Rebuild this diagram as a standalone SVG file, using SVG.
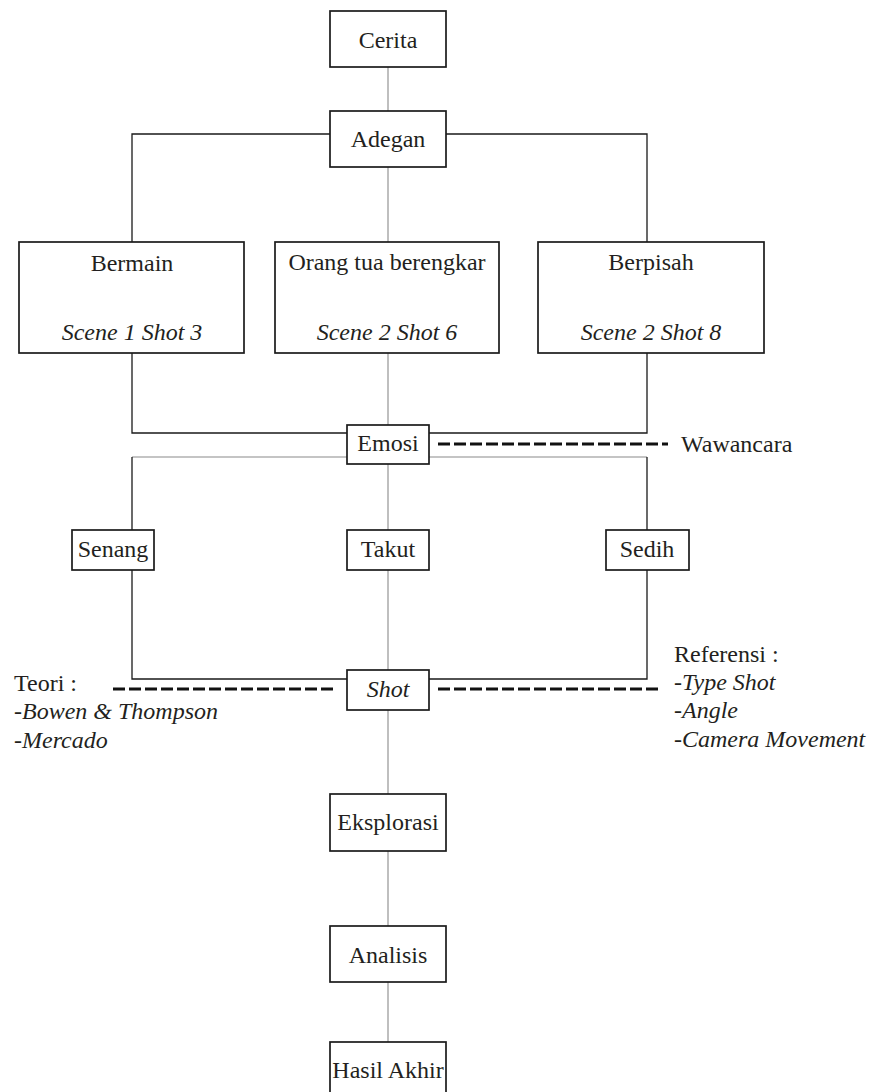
<svg xmlns="http://www.w3.org/2000/svg" width="870" height="1092" viewBox="0 0 870 1092">
<style>
.box{fill:#fff;stroke:#1a1a1a;stroke-width:1.7}
.t{font-family:"Liberation Serif","Times New Roman",serif;font-size:24px;fill:#231f20}
.c{text-anchor:middle}
.i{font-style:italic}
.ln{fill:none;stroke:#1a1a1a;stroke-width:1.3}
.gr{fill:none;stroke:#8a8a8a;stroke-width:1.1}
.ds{fill:none;stroke:#111;stroke-width:3;stroke-dasharray:12 4}
</style>
<rect width="870" height="1092" fill="#fff"/>
<g id="connectors">
<line class="gr" x1="388" y1="67" x2="388" y2="1042"/>
<polyline class="ln" points="330,134 132,134 132,242"/>
<polyline class="ln" points="446,134 647,134 647,242"/>
<polyline class="ln" points="132,353 132,433 347,433"/>
<polyline class="ln" points="647,353 647,433 429,433"/>
<line class="gr" x1="347" y1="457" x2="132" y2="457"/>
<line class="gr" x1="429" y1="457" x2="647" y2="457"/>
<line class="ln" x1="132" y1="457" x2="132" y2="530"/>
<line class="ln" x1="647" y1="457" x2="647" y2="530"/>
<polyline class="ln" points="132,570 132,679 347,679"/>
<polyline class="ln" points="647,570 647,679 429,679"/>
<line class="ds" x1="438" y1="444" x2="668" y2="444"/>
<line class="ds" x1="113" y1="689" x2="337" y2="689"/>
<line class="ds" x1="438" y1="689" x2="662" y2="689"/>
</g>
<g id="cerita"><rect class="box" x="330" y="11" width="116" height="56"/><text class="t c" x="388" y="48">Cerita</text></g>
<g id="adegan"><rect class="box" x="330" y="111" width="116" height="56"/><text class="t c" x="388" y="147">Adegan</text></g>
<g id="bermain"><rect class="box" x="19" y="242" width="225" height="111"/><text class="t c" x="132" y="271">Bermain</text><text class="t c i" x="132" y="340">Scene 1 Shot 3</text></g>
<g id="orangtua"><rect class="box" x="275" y="242" width="224" height="111"/><text class="t c" x="387" y="270">Orang tua berengkar</text><text class="t c i" x="387" y="340">Scene 2 Shot 6</text></g>
<g id="berpisah"><rect class="box" x="538" y="242" width="226" height="111"/><text class="t c" x="651" y="270">Berpisah</text><text class="t c i" x="651" y="340">Scene 2 Shot 8</text></g>
<g id="emosi"><rect class="box" x="347" y="425" width="82" height="39"/><text class="t c" x="388" y="451">Emosi</text></g>
<g id="wawancara"><text class="t" x="681" y="452">Wawancara</text></g>
<g id="senang"><rect class="box" x="72" y="530" width="82" height="40"/><text class="t c" x="113" y="557">Senang</text></g>
<g id="takut"><rect class="box" x="347" y="530" width="82" height="40"/><text class="t c" x="388" y="557">Takut</text></g>
<g id="sedih"><rect class="box" x="606" y="530" width="83" height="40"/><text class="t c" x="647" y="557">Sedih</text></g>
<g id="shot"><rect class="box" x="347" y="670" width="82" height="40"/><text class="t c i" x="388" y="697">Shot</text></g>
<g id="teori"><text class="t" x="14" y="691">Teori :</text><text class="t" x="14" y="719">-<tspan class="i">Bowen &amp; Thompson</tspan></text><text class="t" x="14" y="748">-<tspan class="i">Mercado</tspan></text></g>
<g id="referensi"><text class="t" x="674" y="662">Referensi :</text><text class="t" x="674" y="690">-<tspan class="i">Type Shot</tspan></text><text class="t" x="674" y="718">-<tspan class="i">Angle</tspan></text><text class="t" x="674" y="747">-<tspan class="i">Camera Movement</tspan></text></g>
<g id="eksplorasi"><rect class="box" x="330" y="794" width="116" height="57"/><text class="t c" x="388" y="830">Eksplorasi</text></g>
<g id="analisis"><rect class="box" x="330" y="926" width="116" height="56"/><text class="t c" x="388" y="963">Analisis</text></g>
<g id="hasilakhir"><rect class="box" x="330" y="1042" width="116" height="60"/><text class="t c" x="388" y="1078">Hasil Akhir</text></g>
</svg>
